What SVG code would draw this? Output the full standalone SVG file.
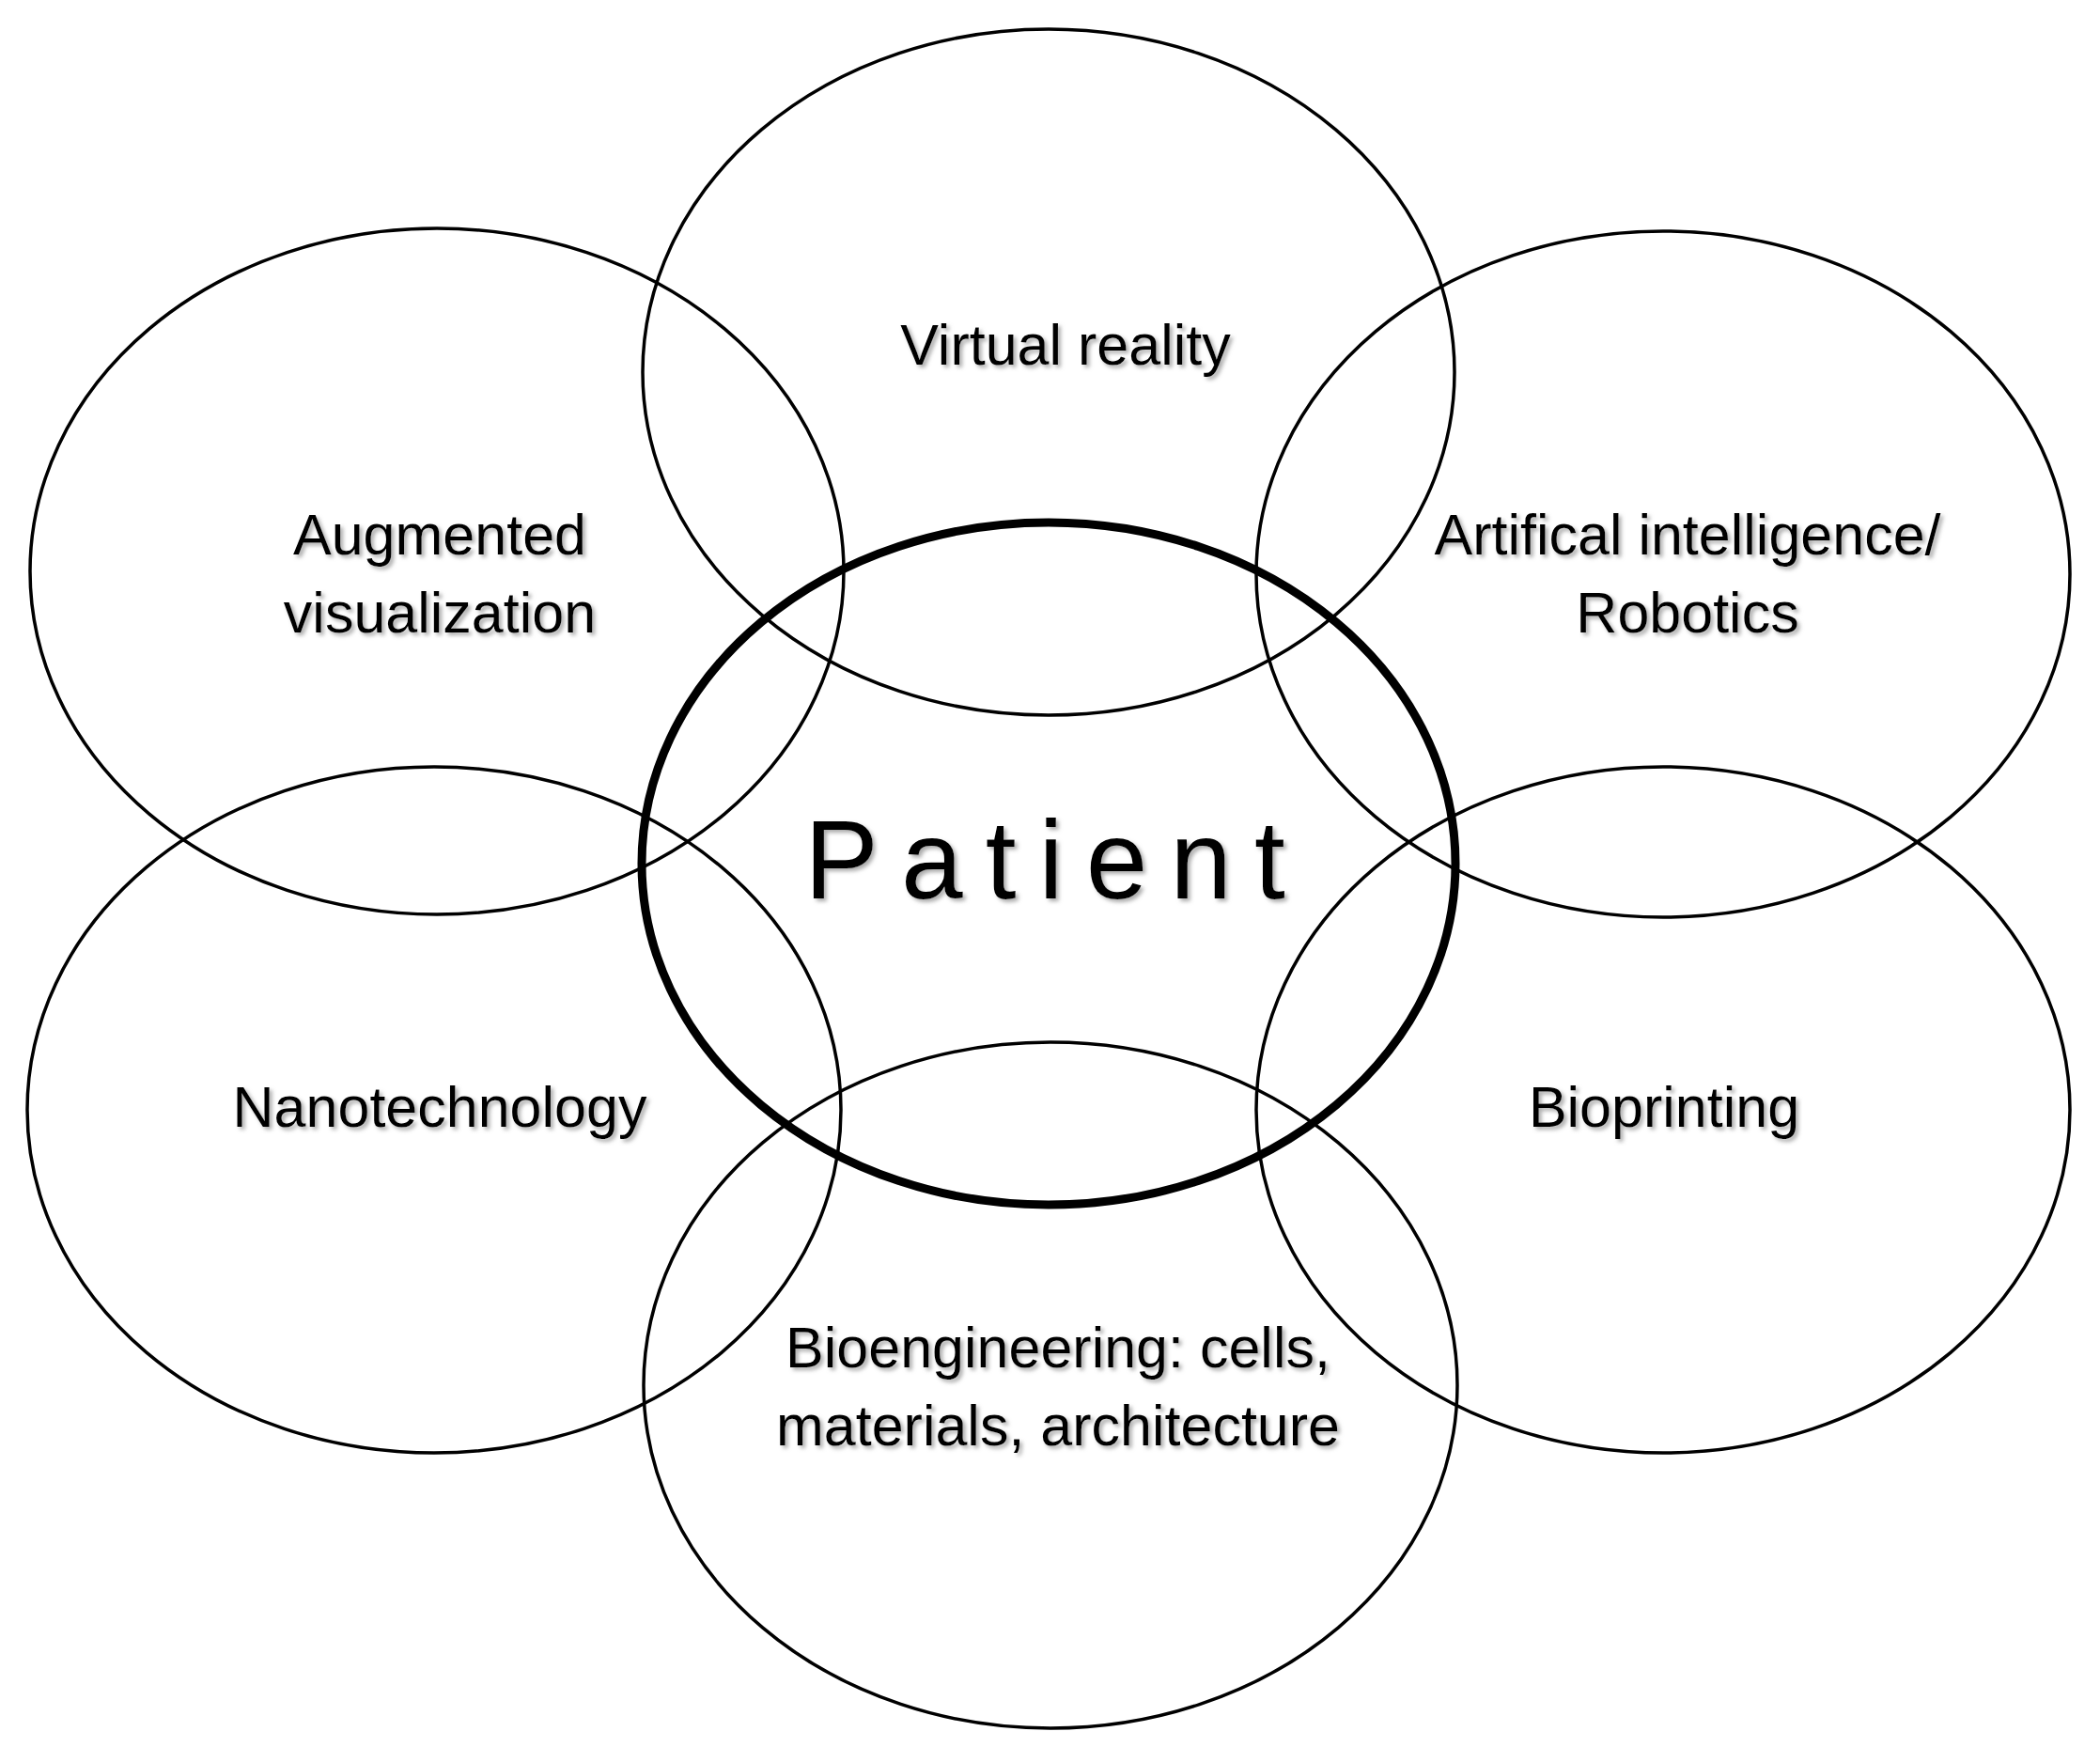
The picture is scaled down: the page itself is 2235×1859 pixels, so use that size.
<svg xmlns="http://www.w3.org/2000/svg" width="2235" height="1859" viewBox="0 0 2235 1859">
<defs>
<filter id="sh" x="-10%" y="-30%" width="120%" height="160%"><feDropShadow dx="3" dy="3" stdDeviation="2" flood-color="#888" flood-opacity="0.7"/></filter>
</defs>
<style>
ellipse{fill:none;stroke:#000;stroke-width:3.5}
.c{stroke-width:9}
text{font-family:"Liberation Sans",Arial,sans-serif;font-size:61px;text-anchor:middle;fill:#000;filter:url(#sh)}
.p{font-size:118px;letter-spacing:24px}
</style>
<rect width="2235" height="1859" fill="#fff"/>
<g id="vr"><ellipse cx="1116" cy="396" rx="432" ry="365"/><text x="1134" y="388">Virtual reality</text></g>
<g id="aug"><ellipse cx="465" cy="608" rx="433" ry="365"/><text x="468" y="590">Augmented</text><text x="468" y="673">visualization</text></g>
<g id="ai"><ellipse cx="1770" cy="611" rx="433" ry="365"/><text x="1796" y="590">Artifical intelligence/</text><text x="1796" y="673">Robotics</text></g>
<g id="nano"><ellipse cx="462" cy="1181" rx="433" ry="365"/><text x="468" y="1199">Nanotechnology</text></g>
<g id="bio"><ellipse cx="1770" cy="1181" rx="433" ry="365"/><text x="1771" y="1199">Bioprinting</text></g>
<g id="bioeng"><ellipse cx="1118" cy="1474" rx="433" ry="365"/><text x="1126" y="1455">Bioengineering: cells,</text><text x="1126" y="1538">materials, architecture</text></g>
<g id="patient"><ellipse class="c" cx="1116" cy="919" rx="433" ry="363"/><text class="p" x="1124" y="956">Patient</text></g>
<g id="connectors"/>
</svg>
